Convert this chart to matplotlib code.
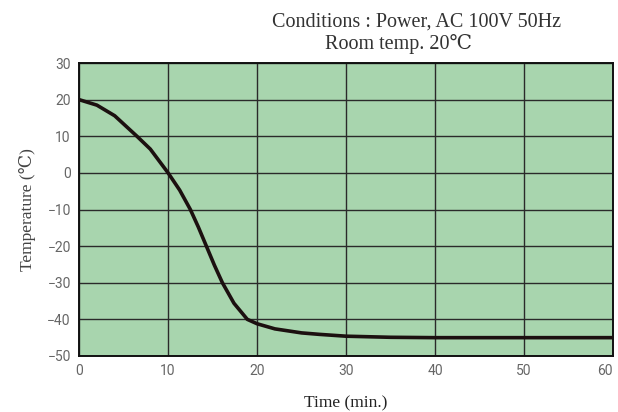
import matplotlib.pyplot as plt
import numpy as np

# cooling curve
time_min = [0, 2, 4, 6.5, 8, 10, 11.3, 12.5, 13.4, 14.3, 15.2, 16.1, 17.4, 18.9, 20, 22, 25, 27, 30, 35, 40, 50, 60]
temp_c = [20, 18.5, 15.6, 10, 6.5, 0, -4.7, -10, -14.8, -20, -25.2, -30, -35.6, -40, -41.2, -42.6, -43.7, -44.1, -44.6, -44.9, -45, -45, -45]

x_ticks = [0, 10, 20, 30, 40, 50, 60]
y_ticks = [30, 20, 10, 0, -10, -20, -30, -40, -50]

serif = ['Liberation Serif', 'DejaVu Serif']
narrow = ['Roboto', 'DejaVu Sans']

fig = plt.figure(figsize=(6.18, 4.12), dpi=100)
ax = fig.add_axes([0.128, 0.136, 0.864, 0.711])
ax.set_facecolor('#a8d5ae')

ax.plot(time_min, temp_c, color='#1c1010', lw=2.6, solid_capstyle='butt', zorder=3)

ax.set_xlim(0, 60)
ax.set_ylim(-50, 30)
ax.set_xticks(x_ticks)
ax.set_yticks(y_ticks)
ax.grid(True, color='#2a2a2a', lw=1.0, zorder=1)
ax.set_axisbelow(True)
ax.tick_params(length=0, pad=6, labelsize=10, labelcolor='#666666')
for label in ax.get_xticklabels() + ax.get_yticklabels():
    label.set_family(narrow)
# keep the last x label inside the canvas
ax.get_xticklabels()[-1].set_horizontalalignment('right')
for s in ax.spines.values():
    s.set_color('#111111')
    s.set_linewidth(1.4)

ax.set_xlabel('Time (min.)', family=serif, fontsize=12.5, color='#222222', labelpad=12)
ax.set_ylabel('Temperature (℃)', family=serif, fontsize=12.5, color='#444444', labelpad=8)

fig.text(0.44, 0.935, 'Conditions : Power, AC 100V 50Hz', family=serif, fontsize=14.5, color='#333333')
fig.text(0.526, 0.88, 'Room temp. 20℃', family=serif, fontsize=14.5, color='#333333')

fig.savefig('out.png', dpi=100)
